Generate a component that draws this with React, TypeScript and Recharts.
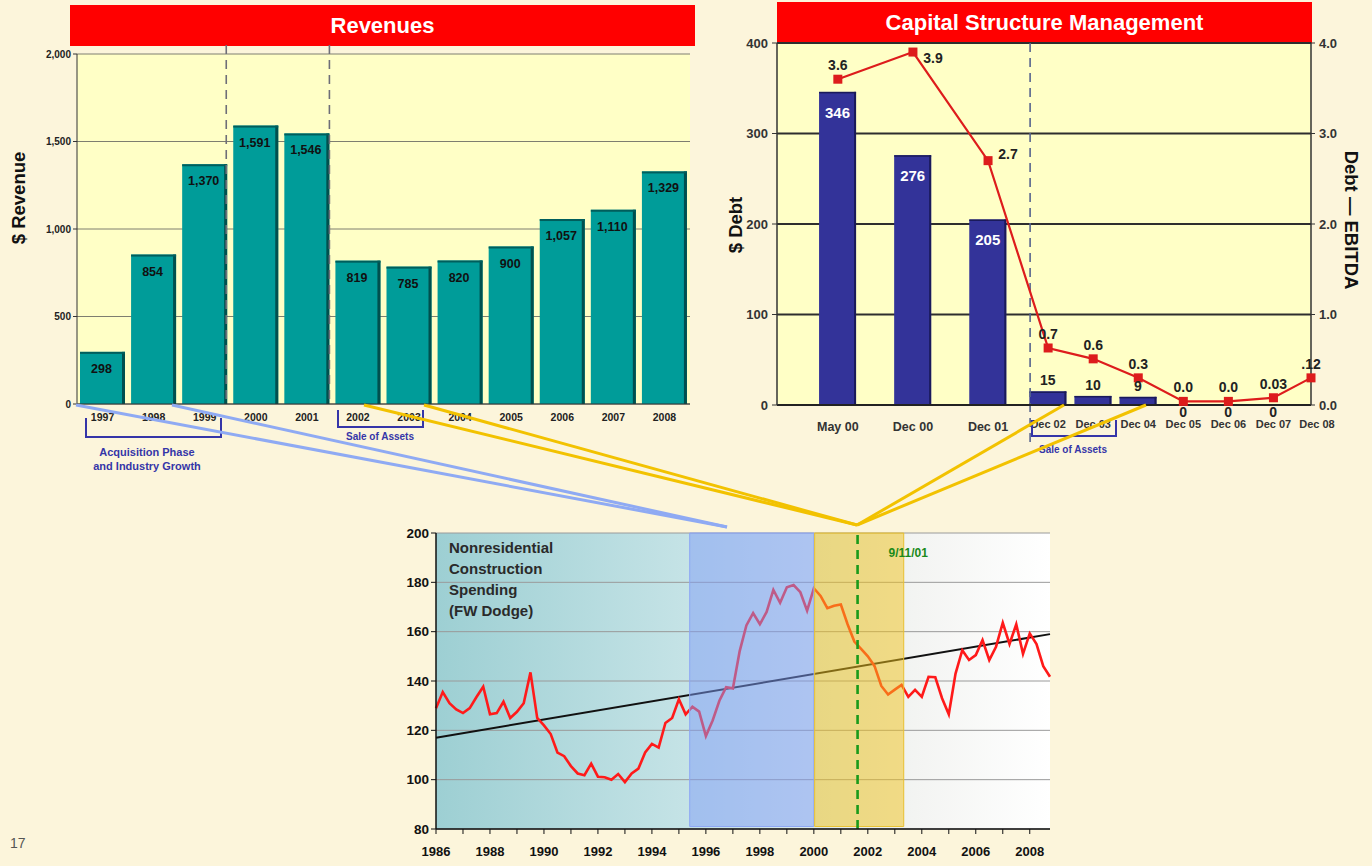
import React from 'react';
import {
  BarChart,
  Bar,
  ComposedChart,
  Line,
  XAxis,
  YAxis,
  CartesianGrid,
  ReferenceLine,
  ReferenceArea,
  LabelList,
} from 'recharts';

const FONT = '"Liberation Sans", Arial, Helvetica, sans-serif';

// ---- Revenues (top left) ----
const revenueYears = ['1997', '1998', '1999', '2000', '2001', '2002', '2003', '2004', '2005', '2006', '2007', '2008'];
const revenueValues = [298, 854, 1370, 1591, 1546, 819, 785, 820, 900, 1057, 1110, 1329];
const revenueTicks = [0, 500, 1000, 1500, 2000];

// ---- Capital structure (top right) ----
const debtPeriods = ['May 00', 'Dec 00', 'Dec 01', 'Dec 02', 'Dec 03', 'Dec 04', 'Dec 05', 'Dec 06', 'Dec 07', 'Dec 08'];
// uneven spacing of the periods on the original axis
const debtSlots = [0, 10, 20, 28, 34, 40, 46, 52, 58, 63];
const debtValues = [346, 276, 205, 15, 10, 9, 0, 0, 0, null];
const ratioValues = [3.6, 3.9, 2.7, 0.63, 0.51, 0.3, 0.04, 0.04, 0.08, 0.3];
const ratioLabels = ['3.6', '3.9', '2.7', '0.7', '0.6', '0.3', '0.0', '0.0', '0.03', '.12'];
const debtTicks = [0, 100, 200, 300, 400];
const ratioTicks = [0, 1, 2, 3, 4];

// ---- Nonresidential construction spending (bottom), quarterly from 1986 ----
const spendingStartYear = 1986;
const spendingValues = [
  129, 135.5, 131, 128.5,
  127, 129, 133.5, 137.7,
  126.5, 127, 131.6, 125,
  127.5, 131, 143.5, 125,
  122, 118.5, 111, 109.5,
  105.5, 102.5, 101.8, 106.5,
  101.2, 101, 100, 102.3,
  99, 102.5, 104.5, 111,
  114.5, 113, 123, 125,
  132.6, 126.5, 129.6, 127.6,
  117.7, 124, 132, 137.5,
  137, 152, 162.5, 167.5,
  163, 168, 176.9, 171.7,
  178, 178.9, 176, 168.5,
  177.6, 174.5, 169.5, 170.5,
  171, 163, 156, 153,
  150, 146, 138, 134.5,
  136.5, 138.4, 133.6, 136.4,
  133.6, 141.7, 141.5, 133,
  126.5, 143, 152.5, 148.5,
  150.5, 156.6, 148.5, 153.9,
  163.6, 155, 163, 151,
  159.3, 155, 146, 141.7,
];
const trendYears = [1986, 2008.75];
const trendValues = [117, 159];
const spendingYearTicks = [
  1986, 1987, 1988, 1989, 1990, 1991, 1992, 1993, 1994, 1995, 1996, 1997,
  1998, 1999, 2000, 2001, 2002, 2003, 2004, 2005, 2006, 2007, 2008,
];
const spendingValueTicks = [80, 100, 120, 140, 160, 180, 200];

const revenueRows = revenueYears.map((year, i) => ({ year, revenue: revenueValues[i] }));
const debtRows = debtPeriods.map((period, i) => ({
  period,
  slot: debtSlots[i],
  debt: debtValues[i],
  ratio: ratioValues[i],
}));
const spendingRows = spendingValues.map((v, i) => ({ t: spendingStartYear + i / 4, v }));
const trendRows = trendYears.map((t, i) => ({ t, v: trendValues[i] }));

const fmtThousands = (v: number) => v.toLocaleString('en-US');

// teal bar with the dark 3D edge
const TealBar = (p: any) => {
  const { x, y, width, height } = p;
  if (!height || height <= 0) return <g />;
  return (
    <g>
      <rect x={x} y={y} width={width} height={height} fill="#009C99" />
      <rect x={x + width - 3} y={y} width={3} height={height} fill="#00504E" />
      <rect x={x} y={y} width={width} height={2} fill="#005E5C" />
    </g>
  );
};

const NavyBar = (p: any) => {
  const { x, y, width, height } = p;
  if (!height || height <= 0) return <g />;
  return (
    <g>
      <rect x={x} y={y} width={width} height={height} fill="#333399" />
      <rect x={x + width - 2} y={y} width={2} height={height} fill="#1A1A5A" />
      <rect x={x} y={y} width={width} height={1.5} fill="#1A1A5A" />
    </g>
  );
};

const RevenueLabel = (p: any) => {
  const vb = p.viewBox || p;
  const x = vb.x ?? p.x;
  const y = vb.y ?? p.y;
  const w = vb.width ?? p.width ?? 0;
  return (
    <text x={x + w / 2 - 1} y={y + 21} textAnchor="middle" fontSize={12.5} fontWeight="bold" fill="#111">
      {fmtThousands(revenueValues[p.index])}
    </text>
  );
};

const DebtLabel = (p: any) => {
  const vb = p.viewBox || p;
  const x = vb.x ?? p.x;
  const y = vb.y ?? p.y;
  const w = vb.width ?? p.width ?? 0;
  const v = debtValues[p.index];
  if (v === null || v === undefined) return null;
  const cx = x + w / 2;
  if (v === 0) {
    return (
      <text x={cx} y={y + 12} textAnchor="middle" fontSize={14} fontWeight="bold" fill="#222">0</text>
    );
  }
  if (v < 50) {
    return (
      <text x={cx} y={y - 6} textAnchor="middle" fontSize={14} fontWeight="bold" fill="#222">{v}</text>
    );
  }
  return (
    <text x={cx} y={y + 26} textAnchor="middle" fontSize={15} fontWeight="bold" fill="#FFFFFF">{v}</text>
  );
};

const RatioLabel = (p: any) => {
  const vb = p.viewBox || {};
  const cx = p.x ?? vb.x;
  const cy = p.y ?? vb.y;
  const i = p.index;
  let tx = cx;
  let ty = cy - 9;
  if (i === 1) {
    tx = cx + 20;
    ty = cy + 11;
  } else if (i === 2) {
    tx = cx + 20;
    ty = cy - 2;
  }
  return (
    <text x={tx} y={ty} textAnchor="middle" fontSize={14} fontWeight="bold" fill="#222">
      {ratioLabels[i]}
    </text>
  );
};

const SquareDot = (p: any) => (
  <rect key={`sq-${p.index}`} x={p.cx - 4.5} y={p.cy - 4.5} width={9} height={9} fill="#DD1C1C" />
);

const DebtTick = (p: any) => {
  const i = debtSlots.indexOf(p.payload.value);
  const big = i < 3;
  const last = i === debtSlots.length - 1;
  return (
    <text
      x={p.x + (last ? 6 : 0)}
      y={p.y + (big ? 17.5 : 15)}
      textAnchor="middle"
      fontSize={big ? 12.5 : 11}
      fontWeight="bold"
      fill="#333"
    >
      {debtPeriods[i]}
    </text>
  );
};

const YearTick = (p: any) => {
  if (p.payload.value % 2 !== 0) return <g />;
  return (
    <text x={p.x} y={p.y + 20} textAnchor="middle" fontSize={13} fontWeight="bold" fill="#111">
      {p.payload.value}
    </text>
  );
};

// dashed divider that can run a little past the plot area
const dashedDivider = (color: string, extendTop: number, extendBottom: number, shift = 0) => (p: any) => {
  const top = Math.min(p.y1, p.y2) - extendTop;
  const bottom = Math.max(p.y1, p.y2) + extendBottom;
  return (
    <line
      x1={p.x1 + shift}
      x2={p.x1 + shift}
      y1={top}
      y2={bottom}
      stroke={color}
      strokeWidth={1.6}
      strokeDasharray="9 6"
    />
  );
};

const titleStyle = (left: number, top: number, width: number, height: number): React.CSSProperties => ({
  position: 'absolute',
  left,
  top,
  width,
  height,
  background: '#FF0000',
  color: '#FFFFFF',
  fontWeight: 'bold',
  fontSize: 22,
  lineHeight: `${height}px`,
  textAlign: 'center',
});

const RevenueChart = () => (
  <BarChart
    width={700}
    height={480}
    data={revenueRows}
    margin={{ top: 54, right: 10, bottom: 56, left: 27 }}
    barCategoryGap={3}
  >
    <CartesianGrid vertical={false} stroke="#7E7E70" fill="#FFFFC6" />
    <XAxis
      dataKey="year"
      interval={0}
      height={20}
      tickLine={false}
      tickMargin={4}
      axisLine={{ stroke: '#333' }}
      tick={{ fontSize: 10.5, fontWeight: 'bold', fill: '#222' }}
    />
    <YAxis
      domain={[0, 2000]}
      ticks={revenueTicks}
      width={50}
      tickSize={4}
      tickFormatter={fmtThousands}
      axisLine={{ stroke: '#333' }}
      tickLine={{ stroke: '#333' }}
      tick={{ fontSize: 10, fontWeight: 'bold', fill: '#222' }}
    />
    <ReferenceLine x="2008" position="end" stroke="#A0A090" />
    <ReferenceLine x="1999" position="end" shape={dashedDivider('#6E6E78', 9, 0, -4)} />
    <ReferenceLine x="2001" position="end" shape={dashedDivider('#6E6E78', 9, 0, -3)} />
    <Bar dataKey="revenue" shape={TealBar} isAnimationActive={false}>
      <LabelList dataKey="revenue" content={RevenueLabel} />
    </Bar>
  </BarChart>
);

const saleStartSlot = 25.6;

const DebtChart = () => (
  <ComposedChart
    width={672}
    height={470}
    data={debtRows}
    margin={{ top: 43, right: 21, bottom: 40, left: 37 }}
  >
    <CartesianGrid vertical={false} yAxisId="debt" stroke="#2E2E2E" strokeWidth={2} fill="#FFFFC6" />
    <XAxis
      type="number"
      dataKey="slot"
      scale="linear"
      domain={[-8.1, 63]}
      ticks={debtSlots}
      interval={0}
      height={25}
      tickLine={false}
      axisLine={{ stroke: '#222', strokeWidth: 2 }}
      tick={DebtTick}
    />
    <YAxis
      yAxisId="debt"
      domain={[0, 400]}
      ticks={debtTicks}
      width={40}
      tickSize={5}
      tickMargin={4}
      axisLine={{ stroke: '#333', strokeWidth: 1.5 }}
      tickLine={{ stroke: '#333' }}
      tick={{ fontSize: 13, fontWeight: 'bold', fill: '#333' }}
    />
    <YAxis
      yAxisId="ratio"
      orientation="right"
      domain={[0, 4]}
      ticks={ratioTicks}
      width={40}
      tickSize={4}
      tickMargin={4}
      tickFormatter={(v: number) => v.toFixed(1)}
      axisLine={{ stroke: '#333', strokeWidth: 1.5 }}
      tickLine={{ stroke: '#333' }}
      tick={{ fontSize: 13, fontWeight: 'bold', fill: '#333' }}
    />
    <ReferenceLine
      x={saleStartSlot}
      yAxisId="debt"
      shape={dashedDivider('#56648E', 0, 38)}
    />
    <Bar yAxisId="debt" dataKey="debt" barSize={37} shape={NavyBar} isAnimationActive={false}>
      <LabelList dataKey="debt" content={DebtLabel} />
    </Bar>
    <Line
      yAxisId="ratio"
      dataKey="ratio"
      stroke="#DD1C1C"
      strokeWidth={2.2}
      dot={SquareDot}
      activeDot={false}
      isAnimationActive={false}
    >
      <LabelList dataKey="ratio" content={RatioLabel} />
    </Line>
  </ComposedChart>
);

const SpendingChart = () => (
  <ComposedChart
    width={690}
    height={346}
    data={spendingRows}
    margin={{ top: 13, right: 20, bottom: 12, left: 11 }}
  >
    <defs>
      <linearGradient id="spendFade" x1="0" y1="0" x2="1" y2="0">
        <stop offset="0%" stopColor="#9DCFD3" />
        <stop offset="45%" stopColor="#C9E5E8" />
        <stop offset="78%" stopColor="#F3F4F2" />
        <stop offset="100%" stopColor="#FFFFFF" />
      </linearGradient>
    </defs>
    <CartesianGrid vertical={false} stroke="#9A9A9A" fill="url(#spendFade)" />
    <XAxis
      type="number"
      dataKey="t"
      scale="linear"
      domain={[1986, 2008.75]}
      ticks={spendingYearTicks}
      interval={0}
      height={25}
      tickSize={5}
      axisLine={{ stroke: '#111', strokeWidth: 1.5 }}
      tickLine={{ stroke: '#111' }}
      tick={YearTick}
    />
    <YAxis
      domain={[80, 200]}
      ticks={spendingValueTicks}
      width={45}
      tickSize={5}
      axisLine={{ stroke: '#111', strokeWidth: 1.5 }}
      tickLine={{ stroke: '#111' }}
      tick={{ fontSize: 13.5, fontWeight: 'bold', fill: '#111' }}
    />
    <Line
      data={trendRows}
      dataKey="v"
      stroke="#111"
      strokeWidth={2}
      dot={false}
      activeDot={false}
      isAnimationActive={false}
    />
    <Line
      dataKey="v"
      stroke="#FF1A1A"
      strokeWidth={2.6}
      dot={false}
      activeDot={false}
      isAnimationActive={false}
    />
    <ReferenceArea
      x1={1995.4}
      x2={2000}
      y1={81}
      y2={200}
      fill="#7E9BF6"
      fillOpacity={0.5}
      stroke="#8DA6F4"
      zIndex={450}
    />
    <ReferenceArea
      x1={2000.03}
      x2={2003.33}
      y1={81}
      y2={200}
      fill="#F2C21A"
      fillOpacity={0.5}
      stroke="#E8C030"
      zIndex={450}
    />
    <ReferenceLine
      x={2001.62}
      stroke="#1A9A1A"
      strokeWidth={2.6}
      strokeDasharray="9 6"
      zIndex={460}
      label={(p: any) => {
        const vb = p.viewBox || {};
        return (
          <text x={vb.x + 31} y={vb.y + 24} fontSize={12} fontWeight="bold" fill="#1A8A1A">
            9/11/01
          </text>
        );
      }}
    />
  </ComposedChart>
);

export default function App() {
  const blue = '#8FAAF3';
  const gold = '#F2C200';
  const navyText = '#3535A8';
  return (
    <div
      style={{
        position: 'absolute',
        left: 0,
        top: 0,
        width: 1372,
        height: 866,
        background: '#FCF5DB',
        fontFamily: FONT,
        overflow: 'hidden',
      }}
    >
      <div style={titleStyle(70, 5, 625, 41)}>Revenues</div>
      <div style={titleStyle(777, 2, 535, 41)}>Capital Structure Management</div>

      <div style={{ position: 'absolute', left: 0, top: 0 }}>
        <RevenueChart />
      </div>
      <div style={{ position: 'absolute', left: 700, top: 0 }}>
        <DebtChart />
      </div>
      <div style={{ position: 'absolute', left: 380, top: 520 }}>
        <SpendingChart />
      </div>

      <div
        style={{
          position: 'absolute',
          left: 449,
          top: 537,
          fontSize: 15,
          fontWeight: 'bold',
          lineHeight: '21px',
          color: '#2A2A2A',
        }}
      >
        Nonresidential
        <br />
        Construction
        <br />
        Spending
        <br />
        (FW Dodge)
      </div>

      <svg
        width={1372}
        height={866}
        style={{ position: 'absolute', left: 0, top: 0, pointerEvents: 'none' }}
      >
        {/* axis titles */}
        <text x={25} y={198} transform="rotate(-90 25 198)" textAnchor="middle" fontSize={18.5} fontWeight="bold" fill="#111">
          $ Revenue
        </text>
        <text x={742} y={225} transform="rotate(-90 742 225)" textAnchor="middle" fontSize={18.5} fontWeight="bold" fill="#111">
          $ Debt
        </text>
        <text x={1345} y={220} transform="rotate(90 1345 220)" textAnchor="middle" fontSize={18.5} fontWeight="bold" fill="#111">
          Debt — EBITDA
        </text>

        {/* brackets */}
        <path d="M86 418 V437 H221 V418" fill="none" stroke={navyText} strokeWidth={2} />
        <text x={147} y={456} textAnchor="middle" fontSize={11} fontWeight="bold" fill={navyText}>
          Acquisition Phase
        </text>
        <text x={147} y={470} textAnchor="middle" fontSize={11} fontWeight="bold" fill={navyText}>
          and Industry Growth
        </text>
        <path d="M338 410 V427 H423 V410" fill="none" stroke={navyText} strokeWidth={2} />
        <text x={380} y={440} textAnchor="middle" fontSize={10} fontWeight="bold" fill={navyText}>
          Sale of Assets
        </text>
        <path d="M1032 420 V436 H1116 V420" fill="none" stroke={navyText} strokeWidth={2} />
        <text x={1073} y={453} textAnchor="middle" fontSize={10} fontWeight="bold" fill={navyText}>
          Sale of Assets
        </text>

        {/* connectors */}
        <line x1={76} y1={405} x2={727} y2={527} stroke={blue} strokeWidth={3} />
        <line x1={172} y1={405} x2={727} y2={527} stroke={blue} strokeWidth={3} />
        <line x1={364} y1={405} x2={857} y2={525} stroke={gold} strokeWidth={3} />
        <line x1={424} y1={405} x2={857} y2={525} stroke={gold} strokeWidth={3} />
        <line x1={1064} y1={405} x2={857} y2={525} stroke={gold} strokeWidth={3} />
        <line x1={1146} y1={405} x2={857} y2={525} stroke={gold} strokeWidth={3} />

        <text x={10} y={848} fontSize={14} fill="#555">17</text>
      </svg>
    </div>
  );
}
